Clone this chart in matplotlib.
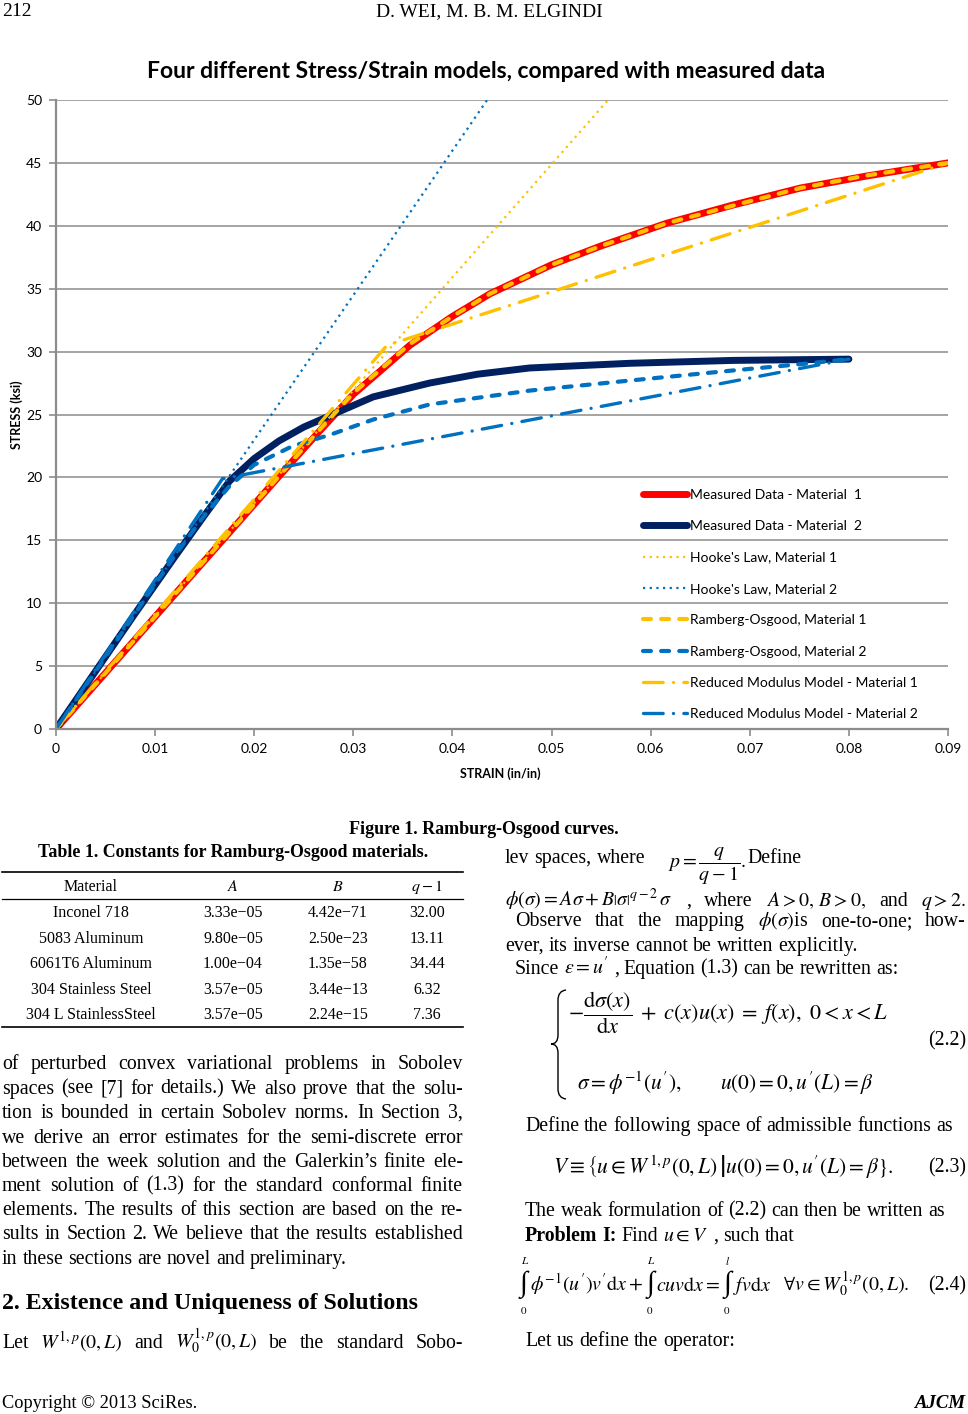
import matplotlib
matplotlib.use("Agg")
import matplotlib.pyplot as plt
from matplotlib.lines import Line2D
from matplotlib.path import Path
from matplotlib.patches import PathPatch

W, H = 968, 1414

# ---- chart data (strain in/in, stress ksi) ----
meas1_strain = [0, 0.0056, 0.0112, 0.0168, 0.0224, 0.0265, 0.0300, 0.0357, 0.0400, 0.0438,
                0.0500, 0.0550, 0.0616, 0.0683, 0.0751, 0.0818, 0.0900]
meas1_stress = [0, 5.0, 10.0, 15.0, 20.0, 23.6, 26.6, 30.5, 32.8, 34.6,
                36.9, 38.4, 40.2, 41.65, 43.0, 43.96, 45.0]

meas2_strain = [0, 0.004, 0.008, 0.012, 0.015, 0.0175, 0.020, 0.0225, 0.025, 0.0282,
                0.032, 0.0377, 0.0425, 0.0478, 0.0579, 0.0683, 0.0800]
meas2_stress = [0, 4.6, 9.2, 13.7, 17.0, 19.7, 21.5, 22.9, 24.0, 25.1,
                26.4, 27.5, 28.2, 28.7, 29.07, 29.3, 29.4]

hooke1_strain = [0, 0.0557]
hooke1_stress = [0, 50]
hooke2_strain = [0, 0.0435]
hooke2_stress = [0, 50]

ro1_strain = [0, 0.0056, 0.0112, 0.0168, 0.0224, 0.0265, 0.0300, 0.0357, 0.0400, 0.0438,
              0.0500, 0.0550, 0.0616, 0.0683, 0.0751, 0.0818, 0.0900]
ro1_stress = [0, 5.0, 10.0, 15.0, 20.0, 23.7, 26.7, 30.6, 32.8, 34.6,
              36.9, 38.4, 40.2, 41.6, 43.0, 44.0, 45.0]

ro2_strain = [0, 0.004, 0.008, 0.012, 0.015, 0.0175, 0.020, 0.0239, 0.0277, 0.032,
              0.0377, 0.0478, 0.0579, 0.0683, 0.0751, 0.0800]
ro2_stress = [0, 4.6, 9.2, 13.8, 17.0, 19.3, 21.0, 22.5, 23.4, 24.6,
              25.8, 26.9, 27.7, 28.5, 29.0, 29.4]

rm1_strain = [0, 0.0334, 0.0900]
rm1_stress = [0, 30.5, 45.0]
rm2_strain = [0, 0.0168, 0.0800]
rm2_stress = [0, 19.9, 29.4]

series_labels = ["Measured Data - Material  1", "Measured Data - Material  2",
                 "Hooke's Law, Material 1", "Hooke's Law, Material 2",
                 "Ramberg-Osgood, Material 1", "Ramberg-Osgood, Material 2",
                 "Reduced Modulus Model - Material 1", "Reduced Modulus Model - Material 2"]

x_ticks = [0, 0.01, 0.02, 0.03, 0.04, 0.05, 0.06, 0.07, 0.08, 0.09]
x_tick_labels = ["0", "0.01", "0.02", "0.03", "0.04", "0.05", "0.06", "0.07", "0.08", "0.09"]
y_ticks = [0, 5, 10, 15, 20, 25, 30, 35, 40, 45, 50]

# ---- table data ----
table_header = ["Material", r"$A$", r"$B$", r"$q-1$"]
table_material = ["Inconel 718", "5083 Aluminum", "6061T6 Aluminum",
                  "304 Stainless Steel", "304 L StainlessSteel"]
table_a = ["3.33e\u221205", "9.80e\u221205", "1.00e\u221204", "3.57e\u221205", "3.57e\u221205"]
table_b = ["4.42e\u221271", "2.50e\u221223", "1.35e\u221258", "3.44e\u221213", "2.24e\u221215"]
table_q = ["32.00", "13.11", "34.44", "6.32", "7.36"]

RED, NAVY, GOLD, BLUE = "#FF0000", "#002060", "#FFC000", "#0070C0"
GRID = "#8C8C8C"
CHART_FONT = "Lato"

plt.rcParams["font.family"] = "serif"
plt.rcParams["font.serif"] = ["Liberation Serif", "DejaVu Serif"]
plt.rcParams["mathtext.fontset"] = "stix"

fig = plt.figure(figsize=(W / 100, H / 100), dpi=100)
renderer = fig.canvas.get_renderer()

# ---- chart ----
ax = fig.add_axes([56 / W, 1 - 729 / H, 892 / W, 629 / H])
ax.plot(meas1_strain, meas1_stress, color=RED, lw=5, solid_capstyle="round", label=series_labels[0])
ax.plot(meas2_strain, meas2_stress, color=NAVY, lw=5, solid_capstyle="round", label=series_labels[1])
ax.plot(hooke1_strain, hooke1_stress, color=GOLD, lw=1.6, linestyle=(0, (1, 2)), label=series_labels[2])
ax.plot(hooke2_strain, hooke2_stress, color=BLUE, lw=1.6, linestyle=(0, (1, 2)), label=series_labels[3])
ax.plot(ro1_strain, ro1_stress, color=GOLD, lw=3, linestyle=(0, (1.9, 2.45)),
        dash_capstyle="round", label=series_labels[4])
ax.plot(ro2_strain, ro2_stress, color=BLUE, lw=3, linestyle=(0, (1.9, 2.45)),
        dash_capstyle="round", label=series_labels[5])
ax.plot(rm1_strain, rm1_stress, color=GOLD, lw=2.4, linestyle=(0, (5.9, 3.1, 0.01, 3.1)),
        dash_capstyle="round", label=series_labels[6])
ax.plot(rm2_strain, rm2_stress, color=BLUE, lw=2.4, linestyle=(0, (5.9, 3.1, 0.01, 3.1)),
        dash_capstyle="round", label=series_labels[7])

ax.set_xlim(0, 0.09)
ax.set_ylim(0, 50)
ax.set_xticks(x_ticks)
ax.set_xticklabels(x_tick_labels, fontfamily=CHART_FONT, fontsize=10)
ax.set_yticks(y_ticks)
ax.set_yticklabels([str(v) for v in y_ticks], fontfamily=CHART_FONT, fontsize=10)
ax.tick_params(length=5, width=1.2, color=GRID, direction="out", pad=5)
ax.yaxis.grid(True, color=GRID, lw=1.1)
ax.set_axisbelow(True)
for side in ("top", "right"):
    ax.spines[side].set_visible(False)
for side in ("left", "bottom"):
    ax.spines[side].set_color(GRID)
    ax.spines[side].set_linewidth(1.6)
ax.set_xlabel("STRAIN (in/in)", fontfamily=CHART_FONT, fontsize=9, fontweight="bold")
ax.set_ylabel("STRESS (ksi)", fontfamily=CHART_FONT, fontsize=9, fontweight="bold")
ax.xaxis.set_label_coords(0.498, -38 / 629)
ax.yaxis.set_label_coords(-33 / 892, 0.5)

ax.legend(loc="upper left", bbox_to_anchor=(643 / W, 1 - 489 / H), bbox_transform=fig.transFigure,
          frameon=False, prop={"family": CHART_FONT, "size": 10}, handlelength=3.17,
          handletextpad=0.25, labelspacing=1.39, borderpad=0, borderaxespad=0)

fig.text(486 / W, 1 - 72 / H, "Four different Stress/Strain models, compared with measured data",
         fontfamily=CHART_FONT, fontsize=16.5, fontweight="bold", ha="center", va="center")

# ---- page text helpers ----
BODY = 14.3
EQ = 15.5


def put(x, y, s, size=BODY, **kw):
    kw.setdefault("va", "baseline")
    return fig.text(x / W, 1 - y / H, s, fontsize=size, **kw)


def width(t):
    return t.get_window_extent(renderer).width


def text_line(x0, yc, text, x1=None, size=BODY, **kw):
    yb = yc + 0.3 * size * 100 / 72
    words = text.split()
    items = [put(x0, yb, w, size=size, **kw) for w in words]
    widths = [width(t) for t in items]
    if x1 is None or len(items) == 1:
        gap = 0.25 * size * 100 / 72
    else:
        gap = (x1 - x0 - sum(widths)) / (len(items) - 1)
    x = x0
    for t, w in zip(items, widths):
        t.set_x(x / W)
        x += w + gap
    return x


def equation(x, yc, pieces, size=EQ):
    # pieces: math strings, or (upper, lower) tuples for an integral with limits
    yb = yc + 0.3 * size * 100 / 72
    for p in pieces:
        if isinstance(p, tuple):
            t = put(x, yc, "\u222b", size=21, va="center")
            w = width(t)
            put(x + w * 0.6, yc - 24, "$%s$" % p[0], size=8, ha="center", va="center")
            put(x + w * 0.45, yc + 25, "$%s$" % p[1], size=8, ha="center", va="center")
            x += w + 2
        else:
            t = put(x, yb, p, size=size)
            x += width(t) + 3


def hline(x0, x1, y, lw):
    fig.add_artist(Line2D([x0 / W, x1 / W], [1 - y / H, 1 - y / H], color="black",
                          lw=lw, transform=fig.transFigure))


# header / footer
put(2, 12, "212", size=14, va="center")
put(489, 12, "D. WEI, M. B. M. ELGINDI", size=14, va="center", ha="center")
put(2, 1403, "Copyright \u00a9 2013 SciRes.", size=13.2, va="center")
put(966, 1403, "AJCM", size=13.5, va="center", ha="right", fontweight="bold", fontstyle="italic")

# caption and table
put(484, 830, "Figure 1. Ramburg-Osgood curves.", size=13, va="center", ha="center", fontweight="bold")
put(233, 852, "Table 1. Constants for Ramburg-Osgood materials.", size=12.9, va="center",
    ha="center", fontweight="bold")
hline(2, 463, 872, 1.2)
hline(2, 463, 899, 0.9)
hline(2, 463, 1027, 1.2)
col_x = [91, 233, 338, 427]
TAB = 11.5
for cx, head in zip(col_x, table_header):
    put(cx, 885.7 + 5, head, size=TAB, ha="center")
row_y = [911.7, 937.7, 963.3, 989, 1014]
for i, ry in enumerate(row_y):
    for cx, val in zip(col_x, [table_material[i], table_a[i], table_b[i], table_q[i]]):
        put(cx, ry + 5, val, size=TAB, ha="center")

# left column
LX0, LX1 = 2, 463
left_lines = [
    ("of perturbed convex variational problems in Sobolev", 1063, True),
    ("spaces (see [7] for details.) We also prove that the solu-", 1088, True),
    ("tion is bounded in certain Sobolev norms. In Section 3,", 1112, True),
    ("we derive an error estimates for the semi-discrete error", 1137, True),
    ("between the week solution and the Galerkin\u2019s finite ele-", 1161, True),
    ("ment solution of (1.3) for the standard conformal finite", 1185, True),
    ("elements. The results of this section are based on the re-", 1209, True),
    ("sults in Section 2. We believe that the results established", 1233, True),
    ("in these sections are novel and preliminary.", 1258, False),
]
for txt, yc, just in left_lines:
    text_line(LX0, yc, txt, LX1 if just else None)
put(2, 1304, "2. Existence and Uniqueness of Solutions", size=17.2, va="center", fontweight="bold")
text_line(LX0, 1342, r"Let $W^{1,p}\left(0,L\right)$ and $W_0^{1,p}\left(0,L\right)$ be the standard Sobo-", LX1)

# right column
RX0, RX1 = 505, 966
text_line(RX0, 857, "lev spaces, where")
put(668, 866, r"$p=\dfrac{q}{q-1}.$", va="center")
text_line(747, 857, "Define")
text_line(RX0, 900, r"$\phi\left(\sigma\right)=A\sigma+B\left|\sigma\right|^{q-2}\,\sigma$ , where "
                    r"$A>0,\,B>0,$ and $q>2.$", RX1)
text_line(515, 920, r"Observe that the mapping $\phi\left(\sigma\right)$is one-to-one; how-", RX1)
text_line(RX0, 945, "ever, its inverse cannot be written explicitly.")
text_line(515, 968, r"Since $\varepsilon=u'$ , Equation (1.3) can be rewritten as:")

# equation (2.2)
brace = [(566, 990), (558, 991), (558, 1000), (558, 1035), (558, 1044), (551, 1044),
         (558, 1044), (558, 1053), (558, 1089), (558, 1098), (566, 1099)]
codes = [Path.MOVETO, Path.CURVE3, Path.CURVE3, Path.LINETO, Path.CURVE3, Path.CURVE3,
         Path.CURVE3, Path.CURVE3, Path.LINETO, Path.CURVE3, Path.CURVE3]
fig.add_artist(PathPatch(Path([(x / W, 1 - y / H) for x, y in brace], codes), fill=False,
                         lw=1.0, color="black", transform=fig.transFigure))
put(568, 1013, r"$-\dfrac{\mathrm{d}\sigma(x)}{\mathrm{d}x}\;+\;c\left(x\right)u\left(x\right)"
               r"\;=\;f\left(x\right),\ 0<x<L$", size=16, va="center")
put(577, 1090, r"$\sigma=\phi^{-1}\left(u'\right),$", size=EQ)
put(720, 1090, r"$u\left(0\right)=0,u'\left(L\right)=\beta$", size=EQ)
put(RX1, 1045, "(2.2)", ha="right")

text_line(525, 1125, "Define the following space of admissible functions as")
put(553, 1167, r"$V\equiv\left\{u\in W^{1,p}\left(0,L\right)\,\right|u\left(0\right)=0,"
               r"u'\left(L\right)=\beta\}.$", size=EQ, va="center")
put(RX1, 1172, "(2.3)", ha="right")
text_line(525, 1210, "The weak formulation of (2.2) can then be written as")
xe = text_line(525, 1235, "Problem I:", fontweight="bold")
text_line(xe, 1235, r"Find $u\in{V}$ , such that")
equation(520, 1285, [("L", "0"), r"$\phi^{-1}\left(u'\right)v'\mathrm{d}x+$",
                     ("L", "0"), r"$cuv\mathrm{d}x=$",
                     ("l", "0"), r"$fv\mathrm{d}x$",
                     r"$\ \ \forall v\in W_0^{1,p}\left(0,L\right).$"], size=BODY)
put(RX1, 1290, "(2.4)", ha="right")
text_line(525, 1340, "Let us define the operator:")

fig.savefig("out.png", dpi=100)
